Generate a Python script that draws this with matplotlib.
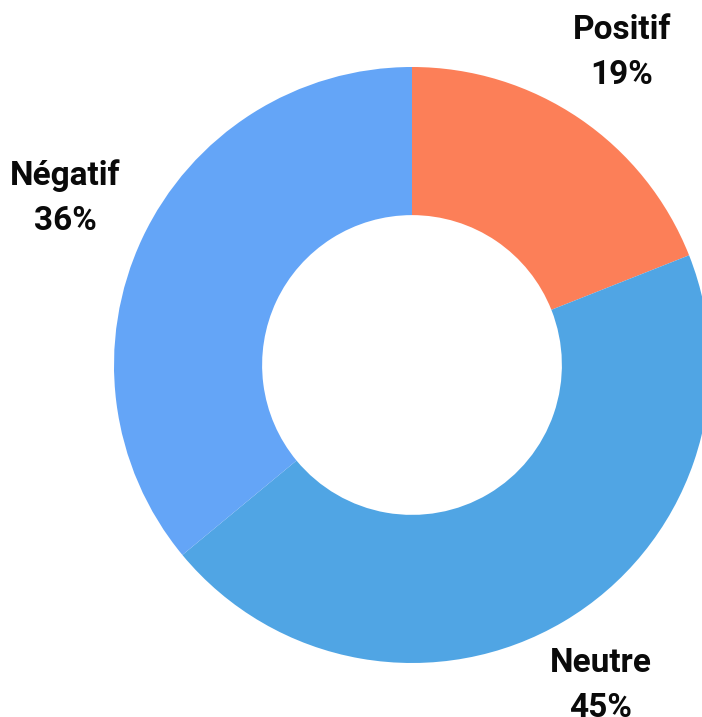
import matplotlib.pyplot as plt

# données du graphique
labels = ['Positif', 'Neutre', 'Négatif']
values = [19, 45, 36]
colors = ['#FC7F58', '#50A5E4', '#64A5F7']

W, H = 702, 717
plt.rcParams['font.family'] = ['Roboto', 'DejaVu Sans']

fig = plt.figure(figsize=(W / 100, H / 100), dpi=100)
ax = fig.add_axes([0, 0, 1, 1])

# anneau (l'axe y est inversé, donc counterclock=True tourne dans le sens horaire)
cx, cy, r = 412, 365, 298
ax.pie(values, colors=colors, center=(cx, cy), radius=r, startangle=-90,
       counterclock=True, wedgeprops=dict(width=r * 0.497, linewidth=0),
       frame=True)
ax.set_xlim(0, W)
ax.set_ylim(H, 0)
ax.set_aspect('equal')
ax.axis('off')

# étiquettes (position centrale x, ligne de base du nom)
label_pos = {'Positif': (622, 39), 'Neutre': (601, 672), 'Négatif': (65, 185)}
for name, v in zip(labels, values):
    x, y = label_pos[name]
    ax.text(x, y, name, ha='center', va='baseline', fontsize=24,
            fontweight='bold', color='#0a0a0a')
    ax.text(x, y + 45, f'{v}%', ha='center', va='baseline', fontsize=24,
            fontweight='bold', color='#0a0a0a')

fig.savefig('out.png', dpi=100)
